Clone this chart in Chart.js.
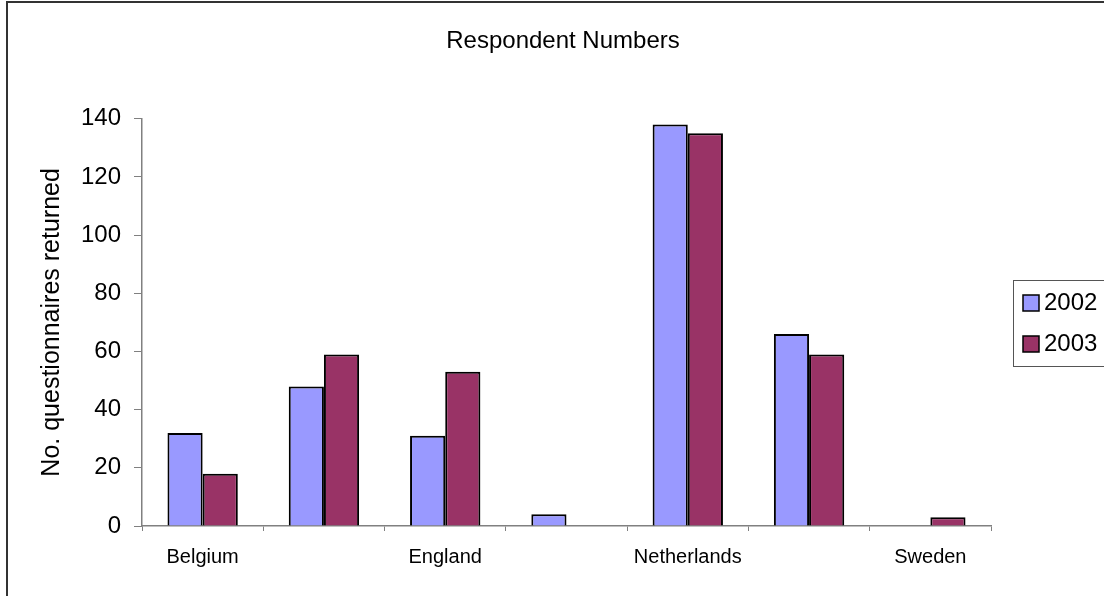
<!DOCTYPE html>
<html>
<head>
<meta charset="utf-8">
<title>Respondent Numbers</title>
<script src="https://cdn.jsdelivr.net/npm/chart.js@4"></script>
<style>
  html, body { margin: 0; padding: 0; background: #fff; }
  #wrap { width: 1104px; height: 596px; }
</style>
</head>
<body>
<div id="wrap"><canvas id="respChart" width="1104" height="596"></canvas></div>
<script>
// countries (only every other name is printed on the axis)
const countries = ["Belgium", "", "England", "", "Netherlands", "", "Sweden"];
const returned2002 = [32, 48, 31, 4, 138, 66, null];
const returned2003 = [18, 59, 53, null, 135, 59, 3];
const yTicks = [0, 20, 40, 60, 80, 100, 120, 140];

const FONT = "'Liberation Sans', Arial, sans-serif";
const AXIS_GREY = "#808080";

// outer frame + boxed legend on the right
const framePlugin = {
  id: "frame",
  afterDraw(chart) {
    const ctx = chart.ctx;
    ctx.save();
    ctx.strokeStyle = "#333";
    ctx.lineWidth = 2;
    ctx.strokeRect(7, 2, 1110, 610);

    // legend box
    const bx = 1013, by = 280, bh = 86;
    ctx.lineWidth = 1;
    ctx.strokeStyle = "#555";
    ctx.strokeRect(bx + 0.5, by + 0.5, 120, bh);

    ctx.font = "24px " + FONT;
    ctx.textBaseline = "middle";
    ctx.textAlign = "left";
    chart.data.datasets.forEach((ds, i) => {
      const cy = by + 23 + i * 41;
      ctx.fillStyle = ds.backgroundColor;
      ctx.fillRect(1023, cy - 8, 16, 16);
      ctx.strokeStyle = "#000";
      ctx.lineWidth = 1.5;
      ctx.strokeRect(1023, cy - 8, 16, 16);
      ctx.fillStyle = "#000";
      ctx.fillText(ds.label, 1044, cy);
    });
    ctx.restore();
  }
};

new Chart(document.getElementById("respChart"), {
  type: "bar",
  data: {
    labels: countries,
    datasets: [
      {
        label: "2002",
        data: returned2002,
        backgroundColor: "#9999FF",
        borderColor: "#000",
        borderWidth: 2
      },
      {
        label: "2003",
        data: returned2003,
        backgroundColor: "#993366",
        borderColor: "#000",
        borderWidth: 2
      }
    ]
  },
  options: {
    responsive: false,
    animation: false,
    events: [],
    categoryPercentage: 0.58,
    barPercentage: 1,
    layout: { padding: { left: 22, right: 0, top: 0, bottom: 0 } },
    plugins: {
      legend: { display: false },
      tooltip: { enabled: false },
      title: {
        display: true,
        text: "Respondent Numbers",
        color: "#000",
        font: { family: FONT, size: 24, weight: "normal" },
        padding: { top: 27, bottom: 63 }
      }
    },
    scales: {
      x: {
        grid: {
          drawOnChartArea: false,
          tickLength: 5,
          color: AXIS_GREY,
          offset: true
        },
        border: { color: AXIS_GREY, width: 1.5 },
        ticks: {
          color: "#000",
          font: { family: FONT, size: 20 },
          padding: 14,
          maxRotation: 0,
          autoSkip: false
        },
        afterFit(scale) { scale.height = 70; }
      },
      y: {
        min: 0,
        max: 140,
        afterBuildTicks(scale) {
          scale.ticks = yTicks.map(v => ({ value: v }));
        },
        grid: {
          drawOnChartArea: false,
          tickLength: 8,
          color: AXIS_GREY
        },
        border: { color: AXIS_GREY, width: 1.5 },
        ticks: {
          color: "#000",
          font: { family: FONT, size: 24 },
          padding: 13
        },
        title: {
          display: true,
          text: "No. questionnaires returned",
          color: "#000",
          font: { family: FONT, size: 25 },
          padding: { top: 15 }
        },
        afterFit(scale) { scale.width = 120; }
      },
      // empty right-hand axis that keeps room for the legend box
      yLegendSpace: {
        position: "right",
        display: true,
        grid: { display: false, drawTicks: false },
        border: { display: false },
        ticks: { display: false },
        afterFit(scale) { scale.width = 113; }
      }
    }
  },
  plugins: [framePlugin]
});
</script>
</body>
</html>
